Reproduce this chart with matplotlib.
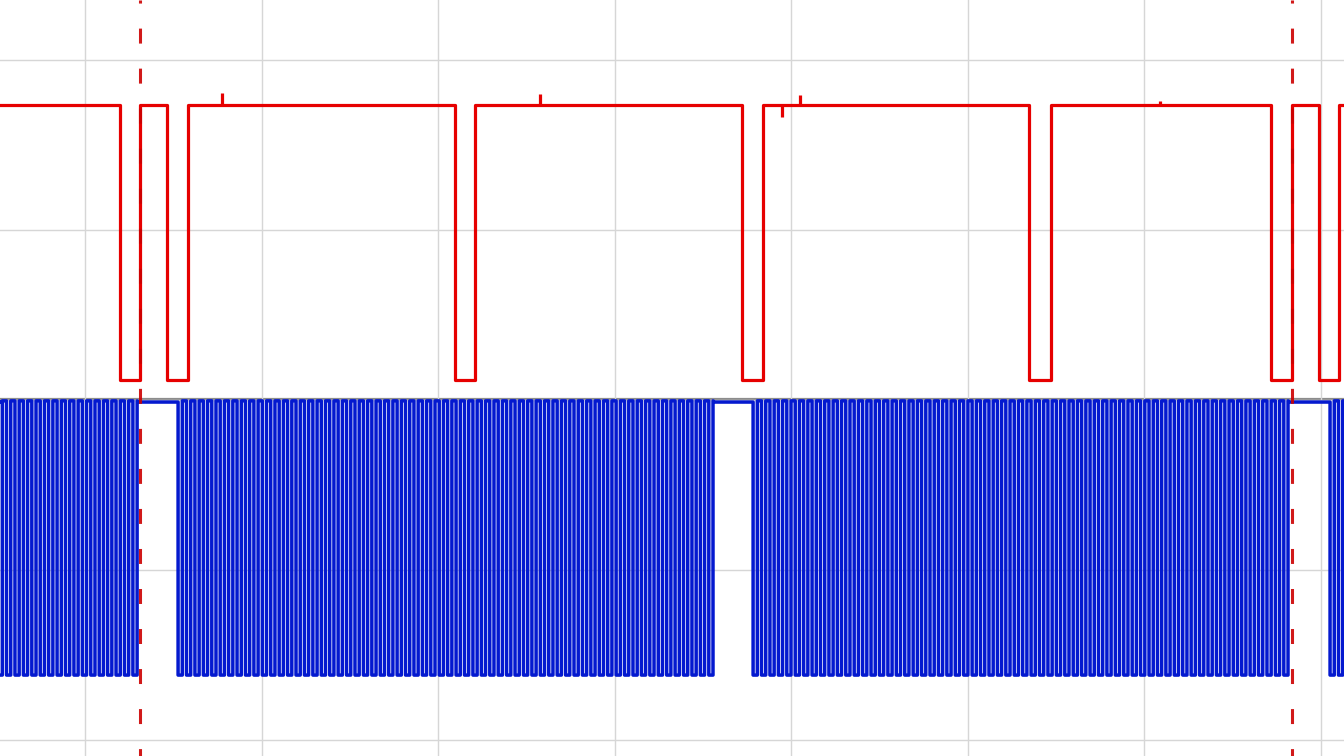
import numpy as np
import matplotlib
matplotlib.use("Agg")
import matplotlib.pyplot as plt

# time in divisions, level in divisions (0 = centre line)
x_range = (-0.482, 7.133)
y_range = (-2.094, 2.353)

# channel 1 (red): levels and low pulses (start, end)
red_high = 1.735
red_low = 0.118
red_pulses = [(0.198, 0.312), (0.462, 0.581), (2.096, 2.210), (3.722, 3.839),
              (5.351, 5.473), (6.720, 6.836), (6.989, 7.105)]
# short glitches on the high level (time, peak level)
red_glitch_t = [0.776, 2.578, 4.051, 3.949, 6.090]
red_glitch_v = [1.806, 1.800, 1.794, 1.665, 1.760]

# channel 2 (blue): clock bursts (start, number of cycles)
blue_high = -0.005
blue_idle = -0.012
blue_low = -1.618
blue_period = 0.04773
blue_bursts = [(-2.736, 64), (0.527, 64), (3.785, 64), (7.054, 64)]

# cursors
cursor_t = [0.312, 6.836]


def red_trace():
    xs, ys = [x_range[0]], [red_high]
    for a, b in red_pulses:
        xs += [a, a, b, b]
        ys += [red_high, red_low, red_low, red_high]
    xs.append(x_range[1])
    ys.append(red_high)
    return xs, ys


def blue_trace():
    xs, ys = [x_range[0]], [blue_idle]
    half = blue_period / 2
    for start, n in blue_bursts:
        xs += [start]
        ys += [blue_idle]
        for k in range(n):
            t0 = start + k * blue_period
            xs += [t0, t0 + half, t0 + half]
            ys += [blue_low, blue_low, blue_high]
            if k < n - 1:
                xs += [t0 + blue_period]
                ys += [blue_high]
        xs += [start + (n - 0.5) * blue_period + 0.01]
        ys += [blue_idle]
    xs.append(x_range[1])
    ys.append(blue_idle)
    return xs, ys


fig = plt.figure(figsize=(13.44, 7.56), dpi=100)
ax = fig.add_axes([0, 0, 1, 1])
ax.set_xlim(*x_range)
ax.set_ylim(*y_range)
ax.set_xticks(range(0, 8))
ax.set_yticks([-2, -1, 0, 1, 2])
ax.tick_params(length=0, labelbottom=False, labelleft=False)
ax.grid(color='#d6d6d6', lw=1)
for s in ax.spines.values():
    s.set_visible(False)
ax.axhline(0.006, color='#8c8c8c', lw=1.6, zorder=1.5)

rx, ry = red_trace()
ax.plot(rx, ry, color='#e60000', lw=2.3, zorder=3)
ax.vlines(red_glitch_t, red_high, red_glitch_v, color='#e60000', lw=2.3, zorder=3)

bx, by = blue_trace()
ax.plot(bx, by, color='#0419cf', lw=2.5, zorder=3)

for t in cursor_t:
    ax.plot([t, t], [y_range[1], y_range[0]], color='#cc0000', lw=2.2,
            alpha=0.9, linestyle=(3.9, (4.9, 8.2)), zorder=4)

plt.savefig('out.png', dpi=100)
